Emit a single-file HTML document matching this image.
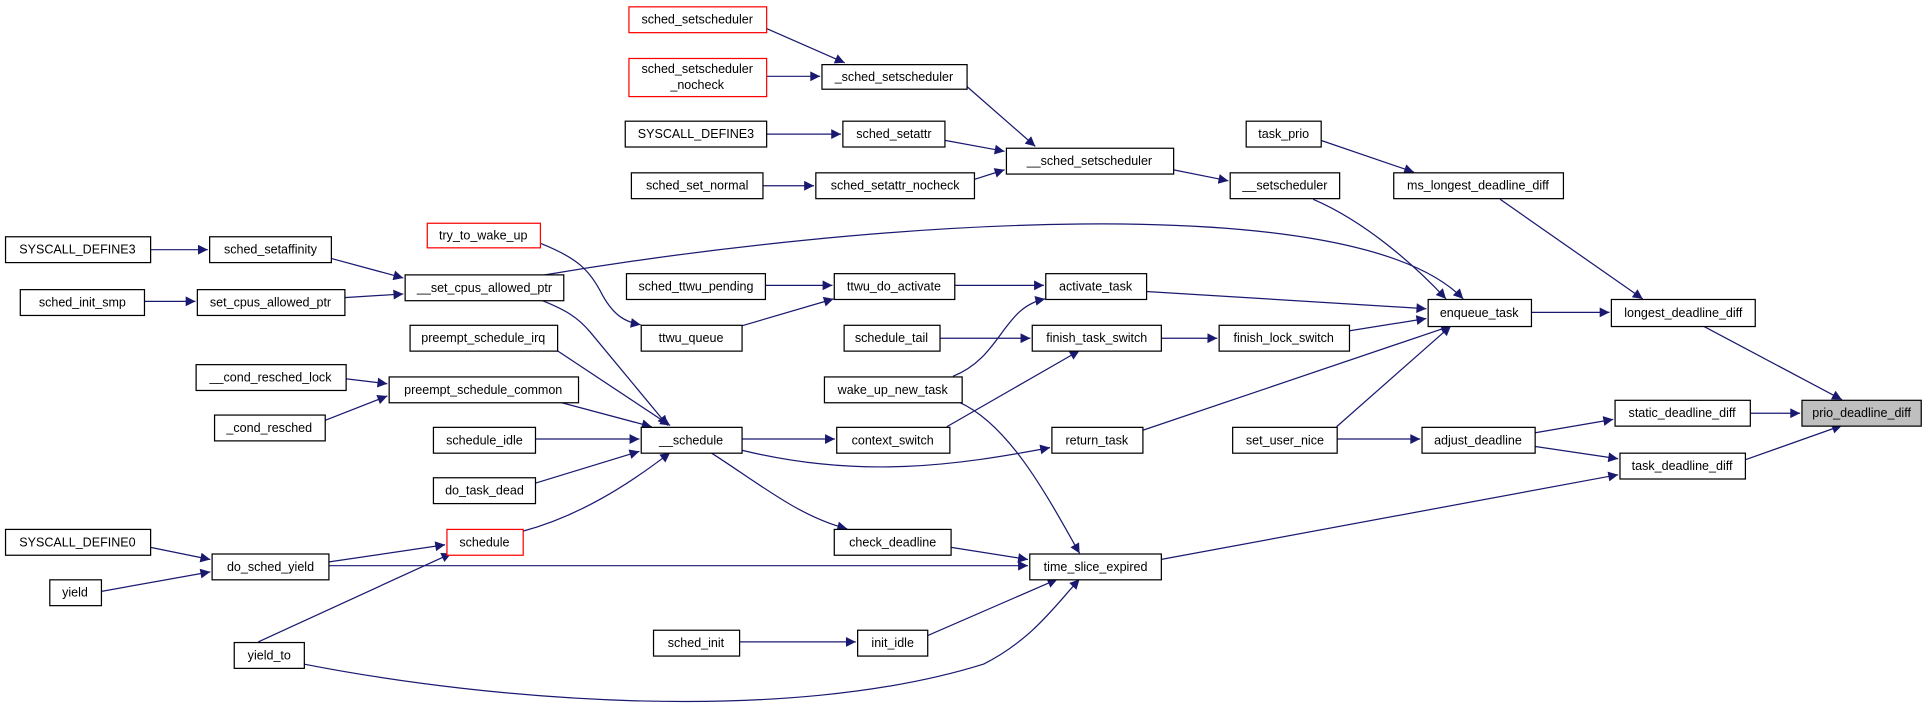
<!DOCTYPE html>
<html><head><meta charset="utf-8"><style>
html,body{margin:0;padding:0;background:#fff;}
svg{display:block}
text{font-family:"Liberation Sans",sans-serif;font-size:10.2px;fill:#000;text-anchor:middle;dominant-baseline:central}
.n{fill:#fff;stroke:#000;stroke-width:1}
.r{fill:#fff;stroke:#ff0000;stroke-width:1}
.g{fill:#bfbfbf;stroke:#000;stroke-width:1}
.e{fill:none;stroke:#191970;stroke-width:1;marker-end:url(#a)}
</style></head><body>
<svg width="1928" height="717" viewBox="0 0 1568 583" xmlns="http://www.w3.org/2000/svg">
<defs><marker id="a" viewBox="0 0 10 10" refX="10" refY="5" markerWidth="11" markerHeight="8" markerUnits="userSpaceOnUse" orient="auto"><path d="M0,0 L10,5 L0,10 z" fill="#191970"/></marker></defs>
<rect width="1568" height="583" fill="#fff"/>
<path class="e" d="M623,23 L687,51"/>
<path class="e" d="M623,62 L667,62"/>
<path class="e" d="M786,70 L842,119"/>
<path class="e" d="M623,109 L684,109"/>
<path class="e" d="M768,114 L817,123"/>
<path class="e" d="M620,151 L662,151"/>
<path class="e" d="M792,146 L817,138"/>
<path class="e" d="M954,138 L999,147"/>
<path class="e" d="M1068,162 C1110,180 1150,215 1176,243"/>
<path class="e" d="M1074,114 L1150,140"/>
<path class="e" d="M1220,162 L1336,243"/>
<path class="e" d="M122,203 L169,203"/>
<path class="e" d="M269,210 L328,226"/>
<path class="e" d="M117,245 L159,245"/>
<path class="e" d="M280,242 L328,239"/>
<path class="e" d="M440,224 C700,180 1100,150 1190,243"/>
<path class="e" d="M440,244 C460,252 470,258 480,270 L543,346"/>
<path class="e" d="M440,198 C470,210 480,220 490,240 C500,258 510,262 521,264"/>
<path class="e" d="M620,232 L677,232"/>
<path class="e" d="M603,265 L678,243"/>
<path class="e" d="M776,232 L849,232"/>
<path class="e" d="M932,237 L1160,251"/>
<path class="e" d="M775,306 C815,290 815,250 850,243"/>
<path class="e" d="M764,275 L838,275"/>
<path class="e" d="M944,275 L990,275"/>
<path class="e" d="M1097,269 L1160,259"/>
<path class="e" d="M770,347 L878,285"/>
<path class="e" d="M929,350 L1180,265"/>
<path class="e" d="M1087,347 L1180,265"/>
<path class="e" d="M1245,254 L1309,254"/>
<path class="e" d="M1385,265 L1498,325"/>
<path class="e" d="M1423,336 L1464,336"/>
<path class="e" d="M1419,374 L1498,346"/>
<path class="e" d="M1087,357 L1155,357"/>
<path class="e" d="M1248,352 L1312,341"/>
<path class="e" d="M1248,363 L1316,373"/>
<path class="e" d="M453,285 L545,346"/>
<path class="e" d="M281,308 L315,312"/>
<path class="e" d="M264,342 L315,322"/>
<path class="e" d="M455,327 L530,347"/>
<path class="e" d="M435,357 L520,357"/>
<path class="e" d="M435,393 L520,367"/>
<path class="e" d="M425,432 C470,420 510,395 545,368"/>
<path class="e" d="M603,357 L679,357"/>
<path class="e" d="M603,366 C700,390 780,378 854,364"/>
<path class="e" d="M578,368 C620,395 650,420 689,430"/>
<path class="e" d="M773,445 L836,455"/>
<path class="e" d="M780,327 C820,345 850,400 878,450"/>
<path class="e" d="M122,445 L171,455"/>
<path class="e" d="M82,481 L171,465"/>
<path class="e" d="M267,457 L362,443"/>
<path class="e" d="M267,460 L836,460"/>
<path class="e" d="M210,522 L367,450"/>
<path class="e" d="M601,522 L696,522"/>
<path class="e" d="M754,517 L860,471"/>
<path class="e" d="M247,540 C400,570 640,590 800,540 C840,520 860,490 878,471"/>
<path class="e" d="M944,455 L1316,386"/>
<rect class="r" x="511.5" y="5.5" width="112" height="21"/><text x="567" y="16">sched_setscheduler</text>
<rect class="r" x="511.5" y="47.5" width="112" height="31"/><text x="567" y="56">sched_setscheduler</text><text x="567" y="69">_nocheck</text>
<rect class="n" x="668.5" y="52.5" width="118" height="20"/><text x="727" y="62.5">_sched_setscheduler</text>
<rect class="n" x="508.5" y="98.5" width="115" height="21"/><text x="566" y="109">SYSCALL_DEFINE3</text>
<rect class="n" x="685.5" y="98.5" width="83" height="21"/><text x="727" y="109">sched_setattr</text>
<rect class="n" x="513.5" y="140.5" width="107" height="21"/><text x="567" y="151">sched_set_normal</text>
<rect class="n" x="663.5" y="140.5" width="129" height="21"/><text x="728" y="151">sched_setattr_nocheck</text>
<rect class="n" x="818.5" y="120.5" width="136" height="21"/><text x="886" y="131">__sched_setscheduler</text>
<rect class="n" x="1013.5" y="98.5" width="61" height="21"/><text x="1044" y="109">task_prio</text>
<rect class="n" x="1000.5" y="140.5" width="89" height="21"/><text x="1045" y="151">__setscheduler</text>
<rect class="n" x="1133.5" y="140.5" width="138" height="21"/><text x="1202" y="151">ms_longest_deadline_diff</text>
<rect class="n" x="4.5" y="192.5" width="118" height="21"/><text x="63" y="203">SYSCALL_DEFINE3</text>
<rect class="n" x="170.5" y="192.5" width="99" height="21"/><text x="220" y="203">sched_setaffinity</text>
<rect class="r" x="347.5" y="181.5" width="92" height="20"/><text x="393" y="191.5">try_to_wake_up</text>
<rect class="n" x="16.5" y="235.5" width="101" height="21"/><text x="67" y="246">sched_init_smp</text>
<rect class="n" x="160.5" y="235.5" width="120" height="21"/><text x="220" y="246">set_cpus_allowed_ptr</text>
<rect class="n" x="329.5" y="223.5" width="129" height="21"/><text x="394" y="234">__set_cpus_allowed_ptr</text>
<rect class="n" x="509.5" y="222.5" width="113" height="21"/><text x="566" y="233">sched_ttwu_pending</text>
<rect class="n" x="678.5" y="222.5" width="98" height="21"/><text x="727" y="233">ttwu_do_activate</text>
<rect class="n" x="850.5" y="222.5" width="82" height="21"/><text x="891" y="233">activate_task</text>
<rect class="n" x="1161.5" y="243.5" width="84" height="22"/><text x="1203" y="254.5">enqueue_task</text>
<rect class="n" x="1310.5" y="243.5" width="117" height="22"/><text x="1369" y="254.5">longest_deadline_diff</text>
<rect class="n" x="333.5" y="264.5" width="120" height="21"/><text x="393" y="275">preempt_schedule_irq</text>
<rect class="n" x="521.5" y="264.5" width="82" height="21"/><text x="562" y="275">ttwu_queue</text>
<rect class="n" x="686.5" y="264.5" width="78" height="21"/><text x="725" y="275">schedule_tail</text>
<rect class="n" x="839.5" y="264.5" width="105" height="21"/><text x="892" y="275">finish_task_switch</text>
<rect class="n" x="991.5" y="264.5" width="106" height="21"/><text x="1044" y="275">finish_lock_switch</text>
<rect class="n" x="159.5" y="296.5" width="122" height="21"/><text x="220" y="307">__cond_resched_lock</text>
<rect class="n" x="316.5" y="306.5" width="154" height="21"/><text x="393" y="317">preempt_schedule_common</text>
<rect class="n" x="670.5" y="306.5" width="112" height="21"/><text x="726" y="317">wake_up_new_task</text>
<rect class="n" x="174.5" y="337.5" width="90" height="21"/><text x="219" y="348">_cond_resched</text>
<rect class="n" x="1313.5" y="325.5" width="110" height="21"/><text x="1368" y="336">static_deadline_diff</text>
<rect class="g" x="1465.5" y="325.5" width="97" height="21"/><text x="1514" y="336">prio_deadline_diff</text>
<rect class="n" x="352.5" y="347.5" width="83" height="21"/><text x="394" y="358">schedule_idle</text>
<rect class="n" x="521.5" y="347.5" width="82" height="21"/><text x="562" y="358">__schedule</text>
<rect class="n" x="680.5" y="347.5" width="92" height="21"/><text x="726" y="358">context_switch</text>
<rect class="n" x="855.5" y="347.5" width="74" height="21"/><text x="892" y="358">return_task</text>
<rect class="n" x="1002.5" y="347.5" width="85" height="21"/><text x="1045" y="358">set_user_nice</text>
<rect class="n" x="1156.5" y="347.5" width="92" height="21"/><text x="1202" y="358">adjust_deadline</text>
<rect class="n" x="1317.5" y="368.5" width="102" height="21"/><text x="1368" y="379">task_deadline_diff</text>
<rect class="n" x="352.5" y="388.5" width="83" height="21"/><text x="394" y="399">do_task_dead</text>
<rect class="n" x="678.5" y="430.5" width="95" height="21"/><text x="726" y="441">check_deadline</text>
<rect class="n" x="4.5" y="430.5" width="118" height="21"/><text x="63" y="441">SYSCALL_DEFINE0</text>
<rect class="r" x="363.5" y="430.5" width="62" height="21"/><text x="394" y="441">schedule</text>
<rect class="n" x="172.5" y="450.5" width="95" height="21"/><text x="220" y="461">do_sched_yield</text>
<rect class="n" x="837.5" y="450.5" width="107" height="21"/><text x="891" y="461">time_slice_expired</text>
<rect class="n" x="40.5" y="471.5" width="42" height="21"/><text x="61" y="482">yield</text>
<rect class="n" x="531.5" y="512.5" width="70" height="21"/><text x="566" y="523">sched_init</text>
<rect class="n" x="697.5" y="512.5" width="57" height="21"/><text x="726" y="523">init_idle</text>
<rect class="n" x="190.5" y="522.5" width="57" height="21"/><text x="219" y="533">yield_to</text>
</svg>
</body></html>
